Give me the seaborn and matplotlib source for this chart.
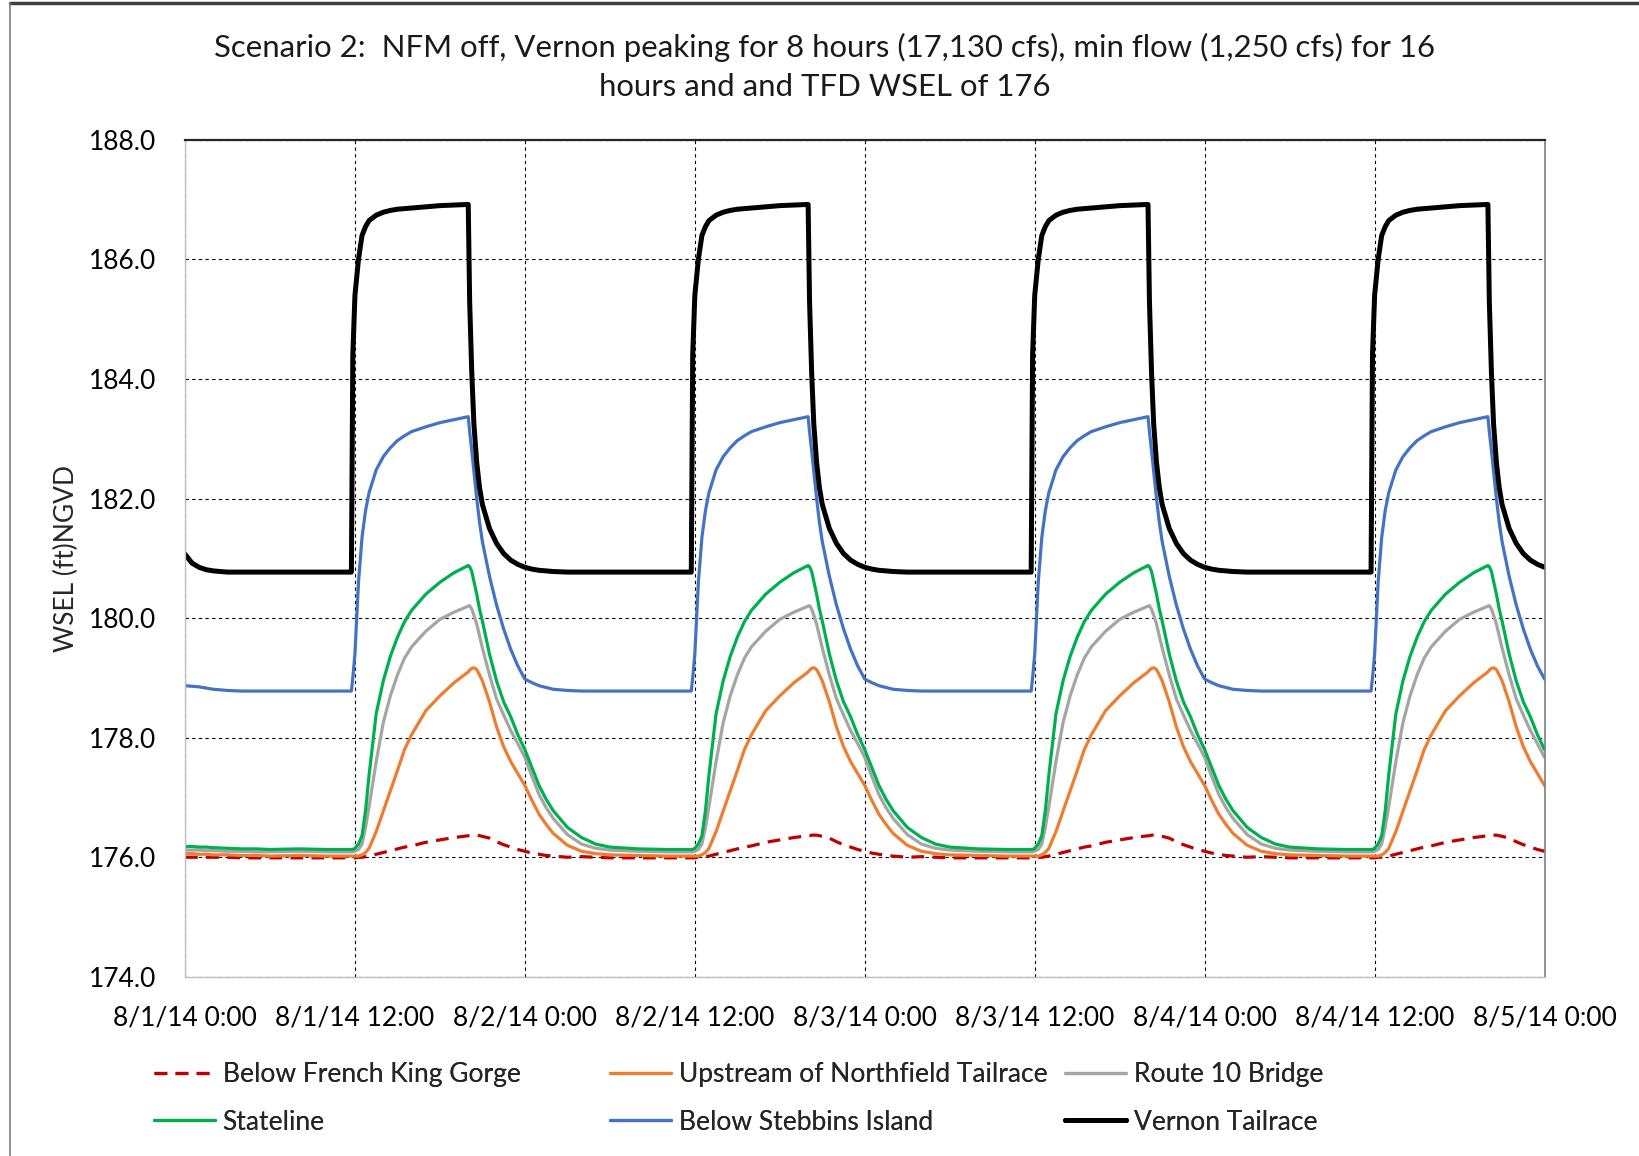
import numpy as np
import pandas as pd
import matplotlib
matplotlib.use("Agg")
import matplotlib.pyplot as plt
from matplotlib.lines import Line2D
import seaborn as sns

# ---------------- data ----------------
title_text = ("Scenario 2:  NFM off, Vernon peaking for 8 hours (17,130 cfs), min flow (1,250 cfs) for 16\n"
              "hours and and TFD WSEL of 176")
y_label = "WSEL (ft)NGVD"
x_tick_hours = [0, 12, 24, 36, 48, 60, 72, 84, 96]
x_tick_labels = ["8/1/14 0:00", "8/1/14 12:00", "8/2/14 0:00", "8/2/14 12:00", "8/3/14 0:00",
                 "8/3/14 12:00", "8/4/14 0:00", "8/4/14 12:00", "8/5/14 0:00"]
y_ticks = [174, 176, 178, 180, 182, 184, 186, 188]
n_days = 4

# hour offsets within one daily cycle (the cycle repeats each day)
cycle_hours = [0, 0.5, 1, 1.5, 2, 3, 4, 5, 6, 8, 10, 11.75, 11.85, 12, 12.25, 12.5, 12.75, 13,
               13.5, 14, 14.5, 15, 15.5, 16, 17, 18, 19, 20, 20.1, 20.25, 20.4, 20.6, 20.8, 21,
               21.5, 22, 22.5, 23, 23.5]

series_names = ["Below French King Gorge", "Upstream of Northfield Tailrace", "Route 10 Bridge",
                "Stateline", "Below Stebbins Island", "Vernon Tailrace"]

french_king = [176.10, 176.07, 176.05, 176.03, 176.02, 176.00, 176.01, 176.00, 175.99, 175.99,
               175.99, 175.99, 175.99, 175.99, 176.00, 176.00, 176.01, 176.02, 176.05, 176.08,
               176.11, 176.14, 176.17, 176.19, 176.25, 176.29, 176.33, 176.36, 176.36, 176.37,
               176.37, 176.37, 176.36, 176.35, 176.32, 176.26, 176.21, 176.17, 176.13]
northfield = [177.20, 176.95, 176.72, 176.55, 176.40, 176.20, 176.10, 176.06, 176.04, 176.03,
              176.02, 176.02, 176.02, 176.02, 176.02, 176.04, 176.08, 176.15, 176.43, 176.77,
              177.11, 177.45, 177.80, 178.05, 178.45, 178.70, 178.92, 179.10, 179.13, 179.16,
              179.17, 179.14, 179.05, 178.95, 178.60, 178.18, 177.85, 177.60, 177.40]
route10 = [177.67, 177.35, 177.05, 176.83, 176.65, 176.38, 176.22, 176.15, 176.12, 176.10,
           176.09, 176.09, 176.09, 176.10, 176.13, 176.22, 176.50, 176.85, 177.60, 178.25,
           178.70, 179.05, 179.33, 179.52, 179.78, 179.98, 180.10, 180.20, 180.21, 180.15,
           180.05, 179.90, 179.70, 179.50, 179.05, 178.65, 178.38, 178.12, 177.90]
stateline = [177.80, 177.50, 177.20, 176.97, 176.78, 176.50, 176.33, 176.22, 176.17, 176.14,
             176.13, 176.13, 176.13, 176.15, 176.22, 176.36, 176.78, 177.38, 178.40, 178.95,
             179.36, 179.68, 179.94, 180.13, 180.40, 180.60, 180.76, 180.88, 180.86, 180.78,
             180.62, 180.40, 180.15, 179.95, 179.40, 178.95, 178.60, 178.35, 178.05]
stebbins = [178.98, 178.92, 178.87, 178.84, 178.81, 178.79, 178.78, 178.78, 178.78, 178.78,
            178.78, 178.78, 179.00, 179.40, 180.60, 181.35, 181.80, 182.10, 182.48, 182.70,
            182.85, 182.97, 183.05, 183.12, 183.20, 183.27, 183.32, 183.37, 183.12, 182.80,
            182.45, 182.00, 181.60, 181.28, 180.70, 180.22, 179.82, 179.48, 179.20]
vernon = [180.85, 180.82, 180.80, 180.79, 180.78, 180.77, 180.77, 180.77, 180.77, 180.77,
          180.77, 180.77, 184.40, 185.40, 186.00, 186.40, 186.55, 186.65, 186.74, 186.79,
          186.82, 186.84, 186.85, 186.86, 186.88, 186.90, 186.91, 186.92, 185.30, 184.10,
          183.25, 182.60, 182.18, 181.90, 181.50, 181.25, 181.08, 180.97, 180.90]

# first hours of day 1 (hours 0..6), which start from different initial levels
french_king_day1 = [176.00, 176.00, 176.00, 176.00, 176.00, 176.00, 175.99, 175.99, 175.99]
northfield_day1 = [176.06, 176.06, 176.05, 176.05, 176.04, 176.04, 176.03, 176.03, 176.02]
route10_day1 = [176.12, 176.12, 176.12, 176.11, 176.11, 176.10, 176.10, 176.09, 176.09]
stateline_day1 = [176.18, 176.18, 176.17, 176.17, 176.16, 176.15, 176.14, 176.14, 176.13]
stebbins_day1 = [178.87, 178.86, 178.85, 178.83, 178.81, 178.79, 178.78, 178.78, 178.78]
vernon_day1 = [181.07, 180.92, 180.85, 180.81, 180.79, 180.77, 180.77, 180.77, 180.77]

colors = ["#C00000", "#ED7D31", "#A5A5A5", "#00B050", "#4472C4", "#000000"]
widths = [2.3, 2.3, 2.3, 2.3, 2.3, 3.6]
styles = [(0, (4.0, 2.6)), "-", "-", "-", "-", "-"]

profiles = [french_king, northfield, route10, stateline, stebbins, vernon]
day1_starts = [french_king_day1, northfield_day1, route10_day1, stateline_day1, stebbins_day1, vernon_day1]

frames = []
for name, prof, d1 in zip(series_names, profiles, day1_starts):
    hrs, vals = [], []
    for d in range(n_days):
        day_vals = list(prof)
        if d == 0:
            day_vals[:len(d1)] = d1
        hrs += [d * 24 + h for h in cycle_hours]
        vals += day_vals
    hrs.append(n_days * 24)
    vals.append(prof[0])
    frames.append(pd.DataFrame({"hour": hrs, "wsel": vals, "site": name}))
df = pd.concat(frames, ignore_index=True)

# ---------------- plot ----------------
sns.set_theme(style="white")
plt.rcParams["font.family"] = ["Lato", "DejaVu Sans"]

fig = plt.figure(figsize=(16.4, 11.56), dpi=100)
ax = fig.add_axes([0.1128, 0.155, 0.829, 0.724])

for name, c, lw, ls in zip(series_names, colors, widths, styles):
    sub = df[df["site"] == name]
    sns.lineplot(data=sub, x="hour", y="wsel", ax=ax, color=c, linewidth=lw,
                 linestyle=ls, estimator=None, sort=False, label=name, legend=False)

ax.set_xlim(0, 96)
ax.set_ylim(174, 188)
ax.set_xticks(x_tick_hours)
ax.set_xticklabels(x_tick_labels)
ax.set_yticks(y_ticks)
ax.set_yticklabels([f"{v:.1f}" for v in y_ticks])
ax.tick_params(axis="both", labelsize=19, length=0, colors="black")
ax.tick_params(axis="x", pad=21)
ax.tick_params(axis="y", pad=21)
ax.set_xlabel("")
ax.set_ylabel(y_label, fontsize=19, labelpad=7)

ax.grid(True, color="black", linestyle=(0, (3, 3)), linewidth=0.8)
ax.set_axisbelow(True)
for s, col, lw in [("left", "#BFBFBF", 1.0), ("bottom", "#BFBFBF", 1.0),
                   ("right", "#7F7F7F", 1.2), ("top", "#262626", 1.6)]:
    ax.spines[s].set_visible(True)
    ax.spines[s].set_color(col)
    ax.spines[s].set_linewidth(lw)

fig.text(0.503, 0.942, title_text, ha="center", va="center", fontsize=22.4,
         linespacing=1.5, color="#1a1a1a")

# legend in three columns placed like the original
handles = [Line2D([0], [0], color=c, lw=lw, linestyle=ls)
           for c, lw, ls in zip(colors, widths, styles)]
col_x = [154 / 1640, 610 / 1640, 1065 / 1640]
groups = [[0, 3], [1, 4], [2, 5]]
for x0, g in zip(col_x, groups):
    leg = fig.legend([handles[i] for i in g], [series_names[i] for i in g],
                     loc="upper left", bbox_to_anchor=(x0, 1 - 1062 / 1156),
                     frameon=False, fontsize=19, handlelength=2.3, handletextpad=0.3,
                     labelspacing=0.86, borderpad=0, borderaxespad=0)
    fig.add_artist(leg)

# chart border remnants (top and left edges)
fig.add_artist(Line2D([10 / 1640, 1], [1 - 3 / 1156, 1 - 3 / 1156], color="#404040", lw=2.5,
                      transform=fig.transFigure))
fig.add_artist(Line2D([10 / 1640, 10 / 1640], [0, 1 - 3 / 1156], color="#7F7F7F", lw=1.2,
                      transform=fig.transFigure))

fig.savefig("out.png", dpi=100)
